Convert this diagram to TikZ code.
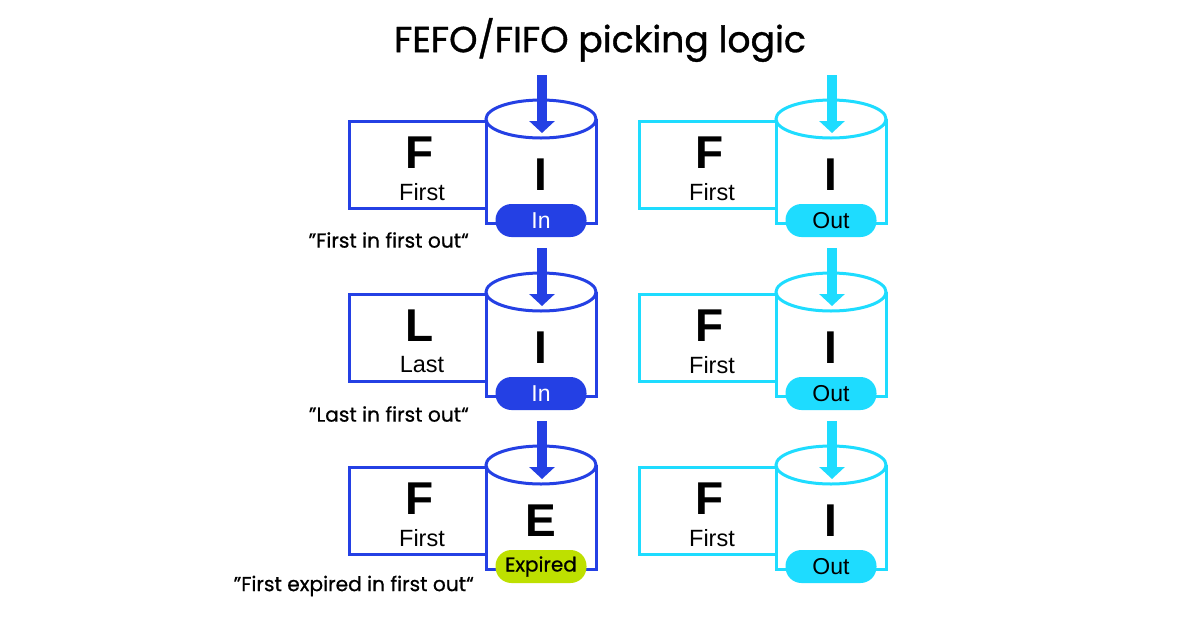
\documentclass[tikz,border=0pt]{standalone}
\usepackage{fontspec}
\setmainfont{Poppins}
\newfontfamily\medf[FakeBold=0.7]{Poppins}
\newfontfamily\titlef[FakeBold=1.0]{Poppins}
\newfontfamily\arialf{Liberation Sans}
\usetikzlibrary{arrows.meta}
\definecolor{cblue}{RGB}{36,64,228}
\definecolor{ccyan}{RGB}{30,220,255}
\definecolor{clime}{RGB}{190,224,0}
\tikzset{
  box/.style={draw=#1, line width=3pt},
  pill/.style={fill=#1, rounded corners=16pt, minimum width=91pt, minimum height=33pt, inner sep=0pt},
  bigletter/.style={font=\arialf\bfseries\fontsize{46}{46}\selectfont, inner sep=0pt},
  smallword/.style={font=\arialf\fontsize{23.5}{23.5}\selectfont, inner sep=0pt},
  quotetext/.style={font=\medf\fontsize{20.2}{20.2}\selectfont, inner sep=0pt, anchor=east},
  flowarrow/.style={draw=#1, line width=10pt, -{Triangle[width=25pt,length=12pt]}},
}
\newcommand{\unitrow}[8]{%
  \begin{scope}[shift={(#1,#2)}]
    \draw[box=#3] (486,121) -- (349,121) -- (349,208) -- (486,208);
    \draw[box=#3] (486,119) -- (486,223) -- (596,223) -- (596,119);
    \draw[box=#3, fill=white] (541,119) ellipse [x radius=55, y radius=19];
    \node[bigletter] (big#1#2) at (420,153) {#4};
    \node[smallword] (word#1#2) at (422,192) {#5};
    \node[bigletter] (mid#1#2) at (541,175) {#6};
    \node[pill=#8] (pill#1#2) at (541,220.5) {#7};
    \coordinate (as#1#2) at (542,75);
    \coordinate (at#1#2) at (542,133);
    \draw[flowarrow=#3] (as#1#2) -- (at#1#2);
  \end{scope}}
\begin{document}
\begin{tikzpicture}[x=1pt,y=-1pt]
\useasboundingbox (0,0) rectangle (1200,630);
\fill[white] (0,0) rectangle (1200,630);
\node[font=\titlef\fontsize{36.2}{36.2}\selectfont, inner sep=0pt] (title) at (600,40) {FEFO/FIFO picking logic};
% left column
\unitrow{0}{0}{cblue}{F}{First}{I}{\arialf\fontsize{23}{23}\selectfont\color{white}In}{cblue}
\unitrow{0}{173}{cblue}{L}{Last}{I}{\arialf\fontsize{23}{23}\selectfont\color{white}In}{cblue}
\unitrow{0}{346}{cblue}{F}{First}{E}{\medf\fontsize{20}{20}\selectfont Expired}{clime}
% right column
\unitrow{290}{0}{ccyan}{F}{First}{I}{\arialf\fontsize{23}{23}\selectfont Out}{ccyan}
\unitrow{290}{173}{ccyan}{F}{First}{I}{\arialf\fontsize{23}{23}\selectfont Out}{ccyan}
\unitrow{290}{346}{ccyan}{F}{First}{I}{\arialf\fontsize{23}{23}\selectfont Out}{ccyan}
% quotes
\node[quotetext] (q1) at (469,240) {”First in first out“};
\node[quotetext] (q2) at (469,414) {”Last in first out“};
\node[quotetext] (q3) at (474,586) {”First expired in first out“};
\end{tikzpicture}
\end{document}
